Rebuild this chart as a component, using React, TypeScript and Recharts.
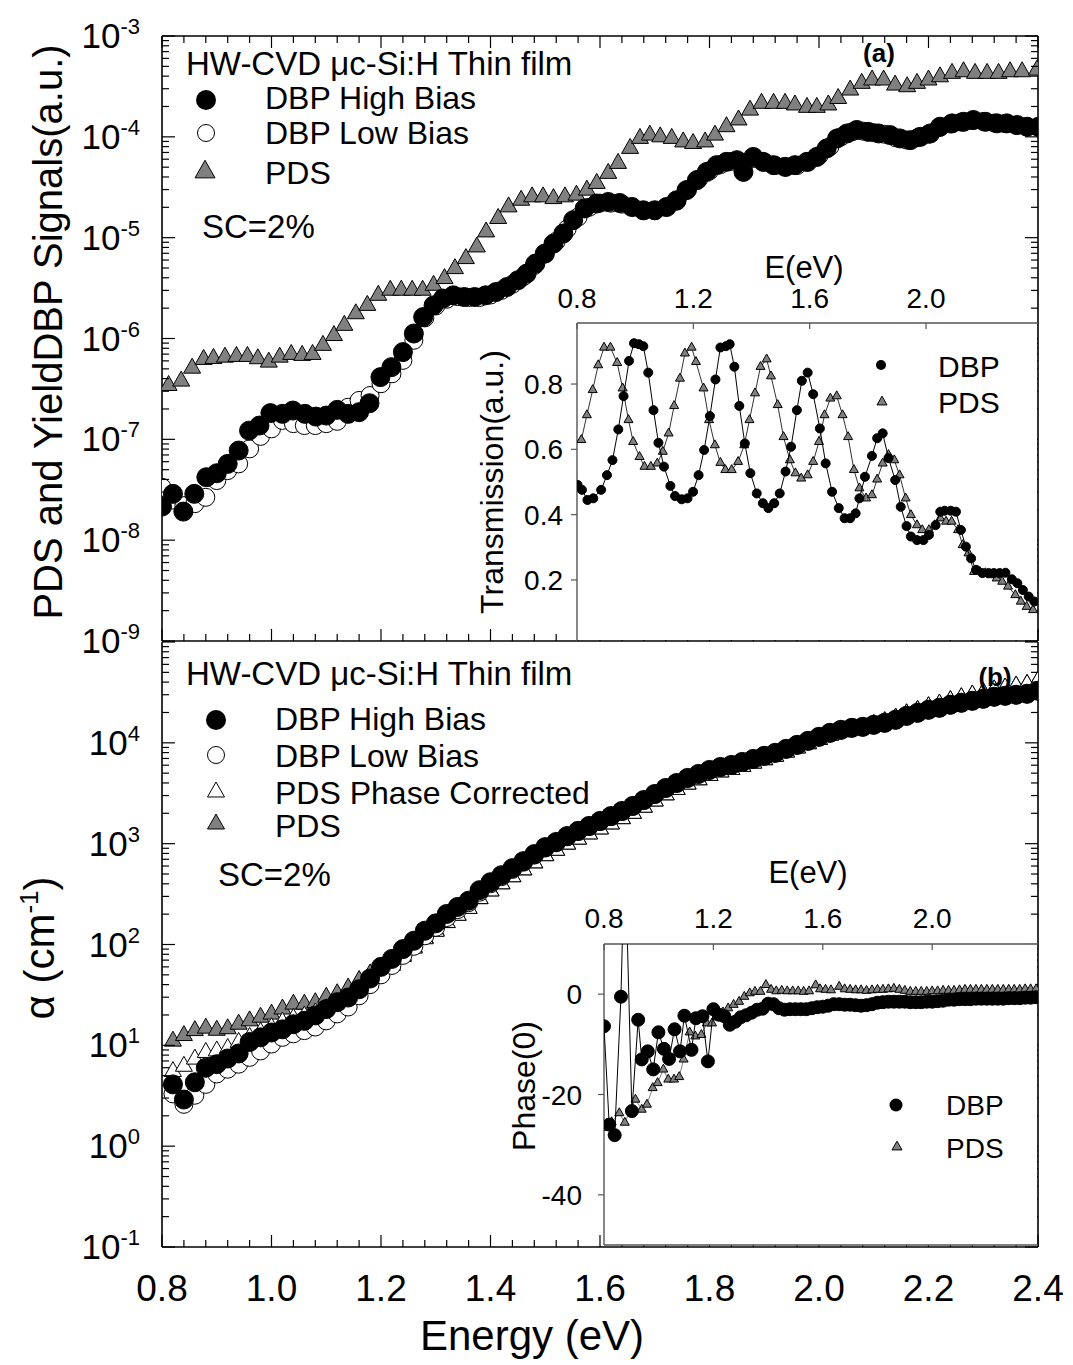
// Two-panel DBP / PDS spectra with transmission and phase insets

import React from 'react';
import { ScatterChart, Scatter, XAxis, YAxis } from 'recharts';

const FONT = '"Liberation Sans", Arial, Helvetica, sans-serif';
const GRAY = '#808080';

// ---------- panel (a): DBP and PDS signals (a.u.) ----------
const sigHighE = [
  0.800, 0.820, 0.839, 0.859, 0.881, 0.900, 0.920, 0.940, 0.959, 0.978,
  0.998, 1.020, 1.039, 1.061, 1.081, 1.100, 1.120, 1.140, 1.160, 1.179,
  1.199, 1.219, 1.240, 1.260, 1.277, 1.296, 1.313, 1.332, 1.352, 1.371,
  1.391, 1.410, 1.430, 1.450, 1.466, 1.482, 1.499, 1.515, 1.533, 1.551,
  1.572, 1.594, 1.615, 1.636, 1.658, 1.679, 1.700, 1.722, 1.740, 1.758,
  1.777, 1.795, 1.813, 1.831, 1.850, 1.862, 1.880, 1.898, 1.917, 1.938,
  1.956, 1.978, 1.996, 2.014, 2.033, 2.051, 2.069, 2.090, 2.109, 2.130,
  2.148, 2.167, 2.185, 2.203, 2.221, 2.243, 2.264, 2.282, 2.304, 2.325,
  2.343, 2.362, 2.380, 2.401,
];
const sigHighV = [
  2.15e-8, 2.88e-8, 1.92e-8, 2.88e-8, 4.21e-8, 4.61e-8, 5.71e-8, 7.74e-8, 1.22e-7, 1.37e-7,
  1.82e-7, 1.79e-7, 1.93e-7, 1.79e-7, 1.68e-7, 1.72e-7, 1.96e-7, 1.79e-7, 1.86e-7, 2.28e-7,
  4.14e-7, 5.2e-7, 7.33e-7, 1.12e-6, 1.63e-6, 2.13e-6, 2.49e-6, 2.68e-6, 2.58e-6, 2.58e-6,
  2.68e-6, 2.89e-6, 3.24e-6, 3.78e-6, 4.4e-6, 5.53e-6, 6.95e-6, 8.73e-6, 1.1e-5, 1.49e-5,
  1.95e-5, 2.18e-5, 2.26e-5, 2.21e-5, 2.02e-5, 1.87e-5, 1.87e-5, 2.02e-5, 2.35e-5, 2.96e-5,
  3.72e-5, 4.49e-5, 5.24e-5, 5.65e-5, 5.87e-5, 4.49e-5, 6.32e-5, 5.65e-5, 5.24e-5, 5.04e-5,
  5.24e-5, 5.65e-5, 6.32e-5, 7.67e-5, 9.64e-5, 1.08e-4, 1.17e-4, 1.12e-4, 1.08e-4, 1.04e-4,
  9.64e-5, 9.27e-5, 1.0e-4, 1.08e-4, 1.26e-4, 1.36e-4, 1.41e-4, 1.47e-4, 1.41e-4, 1.36e-4,
  1.36e-4, 1.31e-4, 1.26e-4, 1.26e-4,
];
const sigLowE = [
  0.80, 0.82, 0.84, 0.86, 0.88, 0.90, 0.92, 0.94, 0.96, 0.98,
  1.00, 1.02, 1.04, 1.06, 1.08, 1.10, 1.12, 1.14, 1.16, 1.18,
  1.20, 1.22, 1.24, 1.26, 1.28, 1.30, 1.32, 1.34, 1.36, 1.38,
  1.40, 1.42, 1.44, 1.46, 1.48, 1.50, 1.52, 1.54, 1.56, 1.58,
  1.60, 1.62, 1.64, 1.66, 1.68, 1.70, 1.72, 1.74, 1.76, 1.78,
  1.80, 1.82, 1.84, 1.86, 1.88, 1.90, 1.92, 1.94, 1.96, 1.98,
  2.00, 2.02, 2.04, 2.06, 2.08, 2.10, 2.12, 2.14, 2.16, 2.18,
  2.20, 2.22, 2.24, 2.26, 2.28, 2.30, 2.32, 2.34, 2.36, 2.38,
  2.40,
];
const sigLowV = [
  3.34e-8, 2.5e-8, 2.2e-8, 2.3e-8, 2.66e-8, 3.9e-8, 4.9e-8, 5.71e-8, 8.05e-8, 1.07e-7,
  1.27e-7, 1.54e-7, 1.43e-7, 1.37e-7, 1.37e-7, 1.43e-7, 1.51e-7, 2.08e-7, 2.43e-7, 2.72e-7,
  3.56e-7, 4.47e-7, 6.07e-7, 9.6e-7, 1.6e-6, 2.1e-6, 2.45e-6, 2.6e-6, 2.55e-6, 2.55e-6,
  2.7e-6, 3.0e-6, 3.45e-6, 4.1e-6, 5.3e-6, 6.9e-6, 9.2e-6, 1.22e-5, 1.6e-5, 2.0e-5,
  2.2e-5, 2.2e-5, 2.15e-5, 2.0e-5, 1.85e-5, 1.85e-5, 2.0e-5, 2.3e-5, 3.0e-5, 3.8e-5,
  4.6e-5, 5.3e-5, 5.7e-5, 5.6e-5, 6.1e-5, 5.6e-5, 5.2e-5, 5.0e-5, 5.2e-5, 5.6e-5,
  6.5e-5, 8.0e-5, 1.0e-4, 1.12e-4, 1.14e-4, 1.1e-4, 1.06e-4, 9.8e-5, 9.3e-5, 9.8e-5,
  1.06e-4, 1.24e-4, 1.34e-4, 1.4e-4, 1.45e-4, 1.42e-4, 1.37e-4, 1.35e-4, 1.3e-4, 1.26e-4,
  1.25e-4,
];
const sigPdsE = [
  0.812, 0.835, 0.855, 0.876, 0.894, 0.915, 0.936, 0.956, 0.975, 0.995,
  1.015, 1.036, 1.056, 1.075, 1.094, 1.114, 1.133, 1.154, 1.175, 1.195,
  1.217, 1.237, 1.257, 1.276, 1.296, 1.316, 1.335, 1.355, 1.375, 1.392,
  1.414, 1.433, 1.456, 1.476, 1.496, 1.515, 1.536, 1.557, 1.576, 1.594,
  1.615, 1.633, 1.655, 1.673, 1.691, 1.710, 1.731, 1.752, 1.770, 1.792,
  1.810, 1.831, 1.853, 1.874, 1.895, 1.917, 1.938, 1.956, 1.978, 1.996,
  2.017, 2.035, 2.057, 2.078, 2.097, 2.118, 2.139, 2.161, 2.179, 2.200,
  2.221, 2.243, 2.264, 2.285, 2.307, 2.328, 2.349, 2.371, 2.398,
];
const sigPdsV = [
  3.42e-7, 3.78e-7, 5.08e-7, 6.2e-7, 6.34e-7, 6.53e-7, 6.64e-7, 6.64e-7, 6.3e-7, 5.83e-7,
  6.53e-7, 6.95e-7, 6.8e-7, 6.95e-7, 8.55e-7, 1.07e-6, 1.35e-6, 1.76e-6, 2.13e-6, 2.68e-6,
  3.01e-6, 3.01e-6, 3.01e-6, 3.01e-6, 3.37e-6, 3.93e-6, 4.93e-6, 6.2e-6, 8.09e-6, 1.14e-5,
  1.55e-5, 2.02e-5, 2.35e-5, 2.54e-5, 2.54e-5, 2.44e-5, 2.54e-5, 2.64e-5, 2.96e-5, 3.45e-5,
  4.34e-5, 5.45e-5, 7.68e-5, 9.65e-5, 1.04e-4, 1.0e-4, 9.65e-5, 8.9e-5, 8.6e-5, 8.9e-5,
  1.04e-4, 1.26e-4, 1.47e-4, 1.84e-4, 2.15e-4, 2.15e-4, 2.15e-4, 2.07e-4, 1.96e-4, 1.96e-4,
  2.07e-4, 2.4e-4, 2.91e-4, 3.39e-4, 3.66e-4, 3.66e-4, 3.26e-4, 3.14e-4, 3.39e-4, 3.66e-4,
  3.94e-4, 4.26e-4, 4.42e-4, 4.26e-4, 4.26e-4, 4.26e-4, 4.42e-4, 4.42e-4, 4.59e-4,
];

// ---------- inset (a): transmission ----------
const transDbpE = [
  0.802, 0.817, 0.836, 0.856, 0.883, 0.903, 0.922, 0.942, 0.960, 0.979,
  0.996, 1.013, 1.028, 1.045, 1.063, 1.080, 1.099, 1.121, 1.137, 1.160,
  1.180, 1.199, 1.218, 1.237, 1.257, 1.276, 1.293, 1.312, 1.325, 1.341,
  1.358, 1.377, 1.396, 1.418, 1.439, 1.458, 1.478, 1.497, 1.517, 1.536,
  1.556, 1.573, 1.593, 1.612, 1.635, 1.655, 1.677, 1.700, 1.720, 1.739,
  1.758, 1.771, 1.790, 1.814, 1.832, 1.851, 1.871, 1.894, 1.913, 1.933,
  1.948, 1.969, 1.991, 2.010, 2.033, 2.049, 2.064, 2.085, 2.103, 2.120,
  2.137, 2.155, 2.172, 2.194, 2.215, 2.233, 2.253, 2.273, 2.295, 2.314,
  2.333, 2.353, 2.372,
];
const transDbpV = [
  0.491, 0.476, 0.445, 0.450, 0.476, 0.521, 0.567, 0.661, 0.763, 0.871,
  0.925, 0.922, 0.916, 0.835, 0.720, 0.620, 0.547, 0.488, 0.457, 0.447,
  0.450, 0.470, 0.521, 0.598, 0.702, 0.814, 0.912, 0.916, 0.922, 0.853,
  0.733, 0.618, 0.527, 0.465, 0.435, 0.420, 0.435, 0.465, 0.532, 0.608,
  0.720, 0.810, 0.835, 0.769, 0.664, 0.557, 0.470, 0.420, 0.389, 0.389,
  0.404, 0.450, 0.516, 0.580, 0.634, 0.649, 0.573, 0.506, 0.424, 0.365,
  0.333, 0.322, 0.322, 0.338, 0.368, 0.409, 0.412, 0.412, 0.409, 0.353,
  0.302, 0.266, 0.231, 0.221, 0.221, 0.221, 0.221, 0.222, 0.202, 0.190,
  0.169, 0.149, 0.134,
];
const transPdsE = [
  0.815, 0.834, 0.854, 0.873, 0.893, 0.915, 0.938, 0.957, 0.977, 0.993,
  1.015, 1.032, 1.054, 1.076, 1.095, 1.115, 1.134, 1.154, 1.171, 1.194,
  1.209, 1.235, 1.254, 1.274, 1.293, 1.310, 1.332, 1.354, 1.375, 1.393,
  1.412, 1.431, 1.452, 1.467, 1.490, 1.510, 1.532, 1.551, 1.571, 1.593,
  1.612, 1.632, 1.651, 1.671, 1.693, 1.713, 1.732, 1.752, 1.771, 1.794,
  1.814, 1.832, 1.851, 1.871, 1.891, 1.909, 1.930, 1.948, 1.969, 1.987,
  2.010, 2.030, 2.049, 2.069, 2.088, 2.110, 2.126, 2.146, 2.165, 2.185,
  2.204, 2.223, 2.243, 2.262, 2.282, 2.307, 2.326, 2.346, 2.368,
];
const transPdsV = [
  0.629, 0.705, 0.782, 0.858, 0.912, 0.912, 0.865, 0.787, 0.690, 0.623,
  0.577, 0.547, 0.547, 0.557, 0.593, 0.649, 0.733, 0.817, 0.894, 0.912,
  0.868, 0.787, 0.690, 0.613, 0.559, 0.537, 0.537, 0.562, 0.613, 0.690,
  0.772, 0.853, 0.876, 0.824, 0.736, 0.638, 0.567, 0.527, 0.511, 0.521,
  0.562, 0.623, 0.705, 0.756, 0.763, 0.705, 0.638, 0.537, 0.481, 0.450,
  0.460, 0.508, 0.557, 0.583, 0.567, 0.521, 0.450, 0.399, 0.368, 0.353,
  0.353, 0.368, 0.389, 0.379, 0.379, 0.353, 0.307, 0.282, 0.225, 0.225,
  0.221, 0.215, 0.205, 0.195, 0.180, 0.154, 0.134, 0.118, 0.108,
];

// ---------- panel (b): absorption coefficient (cm-1) ----------
const absE = [
  0.82, 0.84, 0.86, 0.88, 0.90, 0.92, 0.94, 0.96, 0.98, 1.00,
  1.02, 1.04, 1.06, 1.08, 1.10, 1.12, 1.14, 1.16, 1.18, 1.20,
  1.22, 1.24, 1.26, 1.28, 1.30, 1.32, 1.34, 1.36, 1.38, 1.40,
  1.42, 1.44, 1.46, 1.48, 1.50, 1.52, 1.54, 1.56, 1.58, 1.60,
  1.62, 1.64, 1.66, 1.68, 1.70, 1.72, 1.74, 1.76, 1.78, 1.80,
  1.82, 1.84, 1.86, 1.88, 1.90, 1.92, 1.94, 1.96, 1.98, 2.00,
  2.02, 2.04, 2.06, 2.08, 2.10, 2.12, 2.14, 2.16, 2.18, 2.20,
  2.22, 2.24, 2.26, 2.28, 2.30, 2.32, 2.34, 2.36, 2.38, 2.40,
];
const absHigh = [
  4.1, 2.9, 4.3, 6.0, 6.5, 7.4, 8.3, 10.8, 12.0, 13.4,
  14.4, 16.2, 17.5, 19.8, 22.9, 26.8, 29.8, 36, 46, 60,
  72, 90, 109, 137, 162, 201, 236, 272, 346, 415,
  487, 572, 671, 788, 925, 1040, 1190, 1340, 1500, 1680,
  1880, 2110, 2370, 2710, 3110, 3570, 4000, 4490, 4920, 5390,
  5770, 6040, 6470, 6930, 7430, 7960, 8720, 9550, 10470, 11480,
  12570, 13460, 14100, 14420, 15100, 15810, 16940, 18540, 19870, 21290,
  22290, 23880, 25000, 26140, 27370, 28660, 29310, 29990, 30690, 32890,
];
const absLow = [
  3.3, 2.6, 3.2, 4.1, 5.2, 5.8, 6.5, 7.6, 8.8, 10.3,
  12.0, 13.0, 14.0, 15.2, 17.5, 20.5, 24, 31, 40, 50,
  62, 78, 96, 122, 148, 185, 222, 260, 330, 400,
  470, 555, 655, 770, 905, 1020, 1170, 1320, 1480, 1660,
  1860, 2090, 2350, 2690, 3080, 3540, 3970, 4450, 4880, 5350,
  5730, 6000, 6420, 6880, 7380, 7900, 8650, 9480, 10400, 11400,
  12480, 13360, 14000, 14320, 15000, 15700, 16820, 18400, 19730, 21140,
  22130, 23710, 24820, 25950, 27180, 28460, 29100, 29780, 30480, 32660,
];
const absPdsCorr = [
  5.5, 6.2, 7.3, 8.5, 8.8, 9.3, 10.7, 12.0, 13.5, 15.0,
  17.0, 18.5, 19.5, 21, 23, 26, 29, 34, 42, 52,
  62, 76, 92, 114, 135, 165, 195, 228, 285, 340,
  400, 470, 550, 645, 760, 860, 990, 1110, 1250, 1400,
  1570, 1770, 2000, 2300, 2650, 3050, 3450, 3900, 4300, 4750,
  5150, 5450, 5850, 6300, 6800, 7350, 8100, 8900, 9800, 10800,
  11900, 12900, 13700, 14300, 15200, 16200, 17600, 19400, 21000, 22800,
  24200, 26200, 28000, 29800, 31500, 33500, 35000, 36500, 38000, 41000,
];
const absPds = [
  11.0, 12.5, 14.0, 14.8, 14.1, 14.6, 16.2, 17.5, 19.0, 20.4,
  22.9, 25.6, 25.6, 26.5, 30, 32.5, 37, 44, 51, 58,
  64, 78, 94, 116, 138, 165, 195, 228, 285, 340,
  400, 470, 550, 645, 760, 860, 990, 1110, 1250, 1400,
  1570, 1770, 2000, 2300, 2650, 3050, 3450, 3900, 4300, 4750,
  5150, 5450, 5850, 6300, 6800, 7350, 8100, 8900, 9800, 10800,
  11900, 12900, 13700, 14300, 15200, 16200, 17600, 19400, 21000, 22800,
  24200, 26200, 28000, 29800, 31500, 33500, 35000, 36500, 38000, 41000,
];

// ---------- inset (b): phase (deg) ----------
const phaseDbpE = [
  0.800, 0.819, 0.839, 0.862, 0.876, 0.902, 0.925, 0.938, 0.960, 0.980,
  0.999, 1.019, 1.038, 1.058, 1.078, 1.094, 1.120, 1.136, 1.160, 1.180,
  1.200, 1.220, 1.240, 1.260, 1.280, 1.300, 1.320, 1.340, 1.360, 1.380,
  1.400, 1.420, 1.440, 1.460, 1.480, 1.500, 1.520, 1.540, 1.560, 1.580,
  1.600, 1.620, 1.640, 1.660, 1.680, 1.700, 1.720, 1.740, 1.760, 1.780,
  1.800, 1.820, 1.840, 1.860, 1.880, 1.900, 1.920, 1.940, 1.960, 1.980,
  2.000, 2.020, 2.040, 2.060, 2.080, 2.100, 2.120, 2.140, 2.160, 2.180,
  2.200, 2.220, 2.240, 2.260, 2.280, 2.300, 2.320, 2.340, 2.360, 2.380,
];
const phaseDbpV = [
  -6.4, -26, -28.1, -0.5, 30, -23.3, -5.1, -13, -11.4, -15,
  -7.6, -10.9, -12.9, -7.0, -11.4, -4.3, -11.1, -4.8, -4.4, -13.4,
  -3.0, -4.1, -4.4, -6.1, -5.5, -4.6, -4.2, -3.7, -3.1, -2.9,
  -1.9, -2.0, -2.8, -3.1, -3.0, -3.0, -3.0, -3.0, -2.8, -2.6,
  -2.5, -2.3, -2.0, -2.0, -2.1, -2.1, -2.2, -2.3, -2.2, -2.0,
  -1.7, -1.6, -1.5, -1.5, -1.5, -1.5, -1.6, -1.6, -1.6, -1.5,
  -1.5, -1.4, -1.3, -1.1, -1.1, -1.0, -1.0, -1.0, -0.9, -0.9,
  -0.9, -0.9, -0.9, -0.9, -0.8, -0.8, -0.8, -0.7, -0.7, -0.6,
];
const phasePdsE = [
  0.800, 0.828, 0.856, 0.876, 0.915, 0.938, 0.957, 0.978, 0.996, 1.017,
  1.035, 1.056, 1.075, 1.091, 1.113, 1.134, 1.156, 1.176, 1.195, 1.215,
  1.235, 1.254, 1.274, 1.294, 1.313, 1.333, 1.352, 1.372, 1.392, 1.411,
  1.430, 1.450, 1.470, 1.490, 1.510, 1.530, 1.550, 1.574, 1.590, 1.610,
  1.630, 1.660, 1.680, 1.700, 1.720, 1.740, 1.760, 1.780, 1.800, 1.820,
  1.840, 1.860, 1.880, 1.900, 1.920, 1.940, 1.960, 1.980, 2.000, 2.020,
  2.040, 2.060, 2.080, 2.100, 2.120, 2.140, 2.160, 2.180, 2.200, 2.220,
  2.240, 2.260, 2.280, 2.300, 2.320, 2.340, 2.360, 2.380,
];
const phasePdsV = [
  -26.6, -25.5, -23.7, -25.6, -21, -23, -22, -18.7, -17.7, -15,
  -17, -17, -16.5, -13, -7.6, -8.4, -8.1, -5.8, -5.8, -4.5,
  -3.6, -2.8, -2.1, -1.5, -0.5, 0.2, 0.5, 0.5, 1.85, 0.9,
  0.6, 0.7, 0.6, 0.6, 0.6, 0.5, 0.6, 1.8, 1.0, 0.9,
  0.8, 1.5, 1.0, 0.9, 0.8, 0.8, 0.7, 0.8, 0.9, 0.9,
  1.0, 1.1, 0.9, 0.7, 0.5, 0.5, 0.5, 0.5, 0.6, 0.6,
  0.7, 0.7, 0.7, 0.8, 0.9, 0.9, 0.9, 0.9, 0.9, 0.9,
  0.9, 0.9, 0.9, 0.9, 0.9, 1.0, 1.0, 1.0,
];

// ---------- tick labels ----------
const mainXLabels = [0.8, 1.0, 1.2, 1.4, 1.6, 1.8, 2.0, 2.2, 2.4];
const sigDecades = [1e-9, 1e-8, 1e-7, 1e-6, 1e-5, 1e-4, 1e-3];
const absDecades = [1e-1, 1e0, 1e1, 1e2, 1e3, 1e4, 1e5];
const absLabelled = [1e-1, 1e0, 1e1, 1e2, 1e3, 1e4];
const insetXLabels = [0.8, 1.2, 1.6, 2.0];
const transTicks = [0.2, 0.4, 0.6, 0.8];
const phaseTicks = [0, -20, -40];

const zip = (xs: number[], ys: number[]) =>
  xs.slice(0, Math.min(xs.length, ys.length)).map((x, i) => ({ x, y: ys[i] }));

const withMinor = (majors: number[], parts: number) => {
  const out: number[] = [];
  majors.forEach((m, i) => {
    out.push(m);
    if (i < majors.length - 1) {
      const step = (majors[i + 1] - m) / parts;
      for (let k = 1; k < parts; k++) out.push(+(m + k * step).toFixed(4));
    }
  });
  return out;
};
const logMinor = (decades: number[]) => {
  const out: number[] = [];
  decades.forEach((d, i) => {
    out.push(d);
    if (i < decades.length - 1) for (let k = 2; k <= 9; k++) out.push(d * k);
  });
  return out;
};
// relative comparison, so 2e-9 is not mistaken for 1e-9
const near = (list: number[], v: number) =>
  list.some((m) => (m === 0 ? Math.abs(v) < 1e-12 : Math.abs(m - v) <= Math.abs(m) * 1e-6));

const mainXTicks = withMinor(mainXLabels, 5);
const sigTicks = logMinor(sigDecades);
const absTicks = logMinor(absDecades);
const allDecades = sigDecades.concat(absDecades);

const AXIS = { stroke: '#000', strokeWidth: 1.6 };
const INSET_AXIS = { stroke: '#555', strokeWidth: 1.4 };

// ---------- tick renderers ----------
const leftLogTick = (labelled: number[]) => (p: any) => {
  const v = p.payload.value;
  const major = near(allDecades, v);
  const exp = Math.round(Math.log10(v));
  return (
    <g>
      <line x1={p.x} y1={p.y} x2={p.x + (major ? 13 : 7)} y2={p.y} stroke="#000" strokeWidth={1.2} />
      {major && near(labelled, v) && (
        <text x={p.x - 22} y={p.y + 12} textAnchor="end" fontSize={35} fontFamily={FONT} fill="#000">
          10<tspan dy={-14} fontSize={22}>{exp}</tspan>
        </text>
      )}
    </g>
  );
};
const rightLogTick = (p: any) => {
  const major = near(allDecades, p.payload.value);
  return <line x1={p.x} y1={p.y} x2={p.x - (major ? 13 : 7)} y2={p.y} stroke="#000" strokeWidth={1.2} />;
};
const bottomTick = (labels: boolean) => (p: any) => {
  const v = p.payload.value;
  const major = near(mainXLabels, v);
  return (
    <g>
      <line x1={p.x} y1={p.y} x2={p.x} y2={p.y - (major ? 12 : 7)} stroke="#000" strokeWidth={1.2} />
      {major && labels && (
        <text x={p.x} y={p.y + 54} textAnchor="middle" fontSize={37} fontFamily={FONT} fill="#000">
          {v.toFixed(1)}
        </text>
      )}
    </g>
  );
};
const topTick = (p: any) => {
  const major = near(mainXLabels, p.payload.value);
  return <line x1={p.x} y1={p.y} x2={p.x} y2={p.y + (major ? 12 : 7)} stroke="#000" strokeWidth={1.2} />;
};
const insetTopTick = (lift: number) => (p: any) => (
  <g>
    <line x1={p.x} y1={p.y} x2={p.x} y2={p.y + 6} stroke="#555" strokeWidth={1.2} />
    <text x={p.x} y={p.y - lift} textAnchor="middle" fontSize={28} fontFamily={FONT} fill="#000">
      {p.payload.value.toFixed(1)}
    </text>
  </g>
);
const insetLeftTick = (gap: number, digits: number) => (p: any) => (
  <g>
    <line x1={p.x} y1={p.y} x2={p.x - 6} y2={p.y} stroke="#555" strokeWidth={1.2} />
    <text x={p.x - gap} y={p.y + 10} textAnchor="end" fontSize={28} fontFamily={FONT} fill="#000">
      {p.payload.value.toFixed(digits)}
    </text>
  </g>
);

// ---------- marker shapes ----------
const dot = (r: number, fill: string) => (p: any) => (
  <circle cx={p.cx} cy={p.cy} r={r} fill={fill} stroke="#000" strokeWidth={1} />
);
const triPoints = (cx: number, cy: number, w: number) => {
  const h = w * 0.88;
  return `${cx},${cy - (2 * h) / 3} ${cx - w / 2},${cy + h / 3} ${cx + w / 2},${cy + h / 3}`;
};
const tri = (w: number, fill: string) => (p: any) => (
  <polygon points={triPoints(p.cx, p.cy, w)} fill={fill} stroke="#000" strokeWidth={1} />
);
const legendTri = (cx: number, cy: number, w: number, fill: string) => (
  <polygon points={triPoints(cx, cy, w)} fill={fill} stroke="#000" strokeWidth={1} />
);

const layer: React.CSSProperties = { position: 'absolute', left: 0, top: 0 };

export default function App() {
  return (
    <div
      style={{
        position: 'absolute',
        left: 0,
        top: 0,
        width: 1073,
        height: 1365,
        background: '#fff',
        overflow: 'hidden',
        fontFamily: FONT,
      }}
    >
      {/* panel (a) */}
      <div style={layer}>
        <ScatterChart width={1073} height={700} margin={{ top: 35, right: 34, bottom: 0, left: 0 }}>
          <XAxis xAxisId="b" dataKey="x" type="number" domain={[0.8, 2.4]} allowDataOverflow
            ticks={mainXTicks} interval={0} height={59} tickSize={0} tickMargin={0}
            tickLine={false} axisLine={AXIS} tick={bottomTick(false)} />
          <XAxis xAxisId="t" orientation="top" dataKey="x" type="number" domain={[0.8, 2.4]} allowDataOverflow
            ticks={mainXTicks} interval={0} height={1} tickSize={0} tickMargin={0}
            tickLine={false} axisLine={AXIS} tick={topTick} />
          <YAxis yAxisId="l" dataKey="y" type="number" scale="log" domain={[1e-9, 1e-3]} allowDataOverflow
            ticks={sigTicks} interval={0} width={162} tickSize={0} tickMargin={0}
            tickLine={false} axisLine={AXIS} tick={leftLogTick(sigDecades)} />
          <YAxis yAxisId="r" orientation="right" dataKey="y" type="number" scale="log" domain={[1e-9, 1e-3]}
            allowDataOverflow ticks={sigTicks} interval={0} width={1} tickSize={0} tickMargin={0}
            tickLine={false} axisLine={AXIS} tick={rightLogTick} />
          <Scatter xAxisId="b" yAxisId="l" data={zip(sigPdsE, sigPdsV)} shape={tri(17, GRAY)} isAnimationActive={false} />
          <Scatter xAxisId="b" yAxisId="l" data={zip(sigLowE, sigLowV)} shape={dot(9, '#fff')} isAnimationActive={false} />
          <Scatter xAxisId="b" yAxisId="l" data={zip(sigHighE, sigHighV)} shape={dot(9.5, '#000')} isAnimationActive={false} />
        </ScatterChart>
      </div>

      {/* panel (b) */}
      <div style={layer}>
        <ScatterChart width={1073} height={1365} margin={{ top: 642, right: 34, bottom: 0, left: 0 }}>
          <XAxis xAxisId="b" dataKey="x" type="number" domain={[0.8, 2.4]} allowDataOverflow
            ticks={mainXTicks} interval={0} height={118} tickSize={0} tickMargin={0}
            tickLine={false} axisLine={AXIS} tick={bottomTick(true)} />
          <YAxis yAxisId="l" dataKey="y" type="number" scale="log" domain={[1e-1, 1e5]} allowDataOverflow
            ticks={absTicks} interval={0} width={162} tickSize={0} tickMargin={0}
            tickLine={false} axisLine={AXIS} tick={leftLogTick(absLabelled)} />
          <YAxis yAxisId="r" orientation="right" dataKey="y" type="number" scale="log" domain={[1e-1, 1e5]}
            allowDataOverflow ticks={absTicks} interval={0} width={1} tickSize={0} tickMargin={0}
            tickLine={false} axisLine={AXIS} tick={rightLogTick} />
          <Scatter xAxisId="b" yAxisId="l" data={zip(absE, absPds)} shape={tri(17, GRAY)} isAnimationActive={false} />
          <Scatter xAxisId="b" yAxisId="l" data={zip(absE, absPdsCorr)} shape={tri(17, '#fff')} isAnimationActive={false} />
          <Scatter xAxisId="b" yAxisId="l" data={zip(absE, absLow)} shape={dot(9, '#fff')} isAnimationActive={false} />
          <Scatter xAxisId="b" yAxisId="l" data={zip(absE, absHigh)} shape={dot(9.5, '#000')} isAnimationActive={false} />
        </ScatterChart>
      </div>

      {/* inset backgrounds */}
      <div style={{ position: 'absolute', left: 577, top: 323, width: 460, height: 317, background: '#fff' }} />
      <div style={{ position: 'absolute', left: 605, top: 944, width: 432, height: 301, background: '#fff' }} />

      {/* inset (a): transmission */}
      <div style={layer}>
        <ScatterChart width={1073} height={700} margin={{ top: 322, right: 35, bottom: 59, left: 0 }}>
          <XAxis xAxisId="t" orientation="top" dataKey="x" type="number" domain={[0.8, 2.385]} allowDataOverflow
            ticks={insetXLabels} interval={0} height={1} tickSize={0} tickMargin={0}
            tickLine={false} axisLine={INSET_AXIS} tick={insetTopTick(15)} />
          <YAxis yAxisId="l" dataKey="y" type="number" domain={[0.013, 0.987]} allowDataOverflow
            ticks={transTicks} interval={0} width={577} tickSize={0} tickMargin={0}
            tickLine={false} axisLine={INSET_AXIS} tick={insetLeftTick(14, 1)} />
          <Scatter xAxisId="t" yAxisId="l" data={zip(transPdsE, transPdsV)} shape={tri(9, GRAY)}
            line={{ stroke: '#333', strokeWidth: 1 }} isAnimationActive={false} />
          <Scatter xAxisId="t" yAxisId="l" data={zip(transDbpE, transDbpV)} shape={dot(4.5, '#000')}
            line={{ stroke: '#000', strokeWidth: 1 }} isAnimationActive={false} />
        </ScatterChart>
      </div>

      {/* inset (b): phase */}
      <div style={layer}>
        <ScatterChart width={1073} height={1365} margin={{ top: 943, right: 35, bottom: 0, left: 0 }}>
          <XAxis xAxisId="t" orientation="top" dataKey="x" type="number" domain={[0.8, 2.387]} allowDataOverflow
            ticks={insetXLabels} interval={0} height={1} tickSize={0} tickMargin={0}
            tickLine={false} axisLine={INSET_AXIS} tick={insetTopTick(16)} />
          <XAxis xAxisId="b" dataKey="x" type="number" domain={[0.8, 2.387]} allowDataOverflow
            height={120} tick={false} tickLine={false} axisLine={INSET_AXIS} />
          <YAxis yAxisId="l" dataKey="y" type="number" domain={[-50, 10]} allowDataOverflow
            ticks={phaseTicks} interval={0} width={604} tickSize={0} tickMargin={0}
            tickLine={false} axisLine={INSET_AXIS} tick={insetLeftTick(22, 0)} />
          <Scatter xAxisId="t" yAxisId="l" data={zip(phasePdsE, phasePdsV)} shape={tri(9, GRAY)}
            line={{ stroke: GRAY, strokeWidth: 1 }} isAnimationActive={false} />
          <Scatter xAxisId="t" yAxisId="l" data={zip(phaseDbpE, phaseDbpV)} shape={dot(6.5, '#000')}
            line={{ stroke: '#000', strokeWidth: 1 }} isAnimationActive={false} />
        </ScatterChart>
      </div>

      {/* titles, legends and notes */}
      <svg width={1073} height={1365} style={{ ...layer, pointerEvents: 'none' }} fontFamily={FONT} fill="#000">
        <text transform="translate(62,332) rotate(-90)" textAnchor="middle" fontSize={40}>
          PDS and YieldDBP Signals(a.u.)
        </text>
        <text transform="translate(54,948) rotate(-90)" textAnchor="middle" fontSize={42}>
          α (cm<tspan dy={-16} fontSize={26}>-1</tspan><tspan dy={16}>)</tspan>
        </text>
        <text x={532} y={1350} textAnchor="middle" fontSize={42}>Energy (eV)</text>

        {/* panel (a) notes */}
        <text x={186} y={75} fontSize={33}>HW-CVD μc-Si:H Thin film</text>
        <circle cx={206} cy={100} r={10} fill="#000" />
        <text x={265} y={109} fontSize={32}>DBP High Bias</text>
        <circle cx={206} cy={133} r={8.5} fill="#fff" stroke="#000" strokeWidth={1} />
        <text x={265} y={144} fontSize={32}>DBP Low Bias</text>
        {legendTri(205, 172, 20, GRAY)}
        <text x={265} y={184} fontSize={32}>PDS</text>
        <text x={202} y={238} fontSize={33}>SC=2%</text>
        <text x={879} y={62} textAnchor="middle" fontSize={26} fontWeight="bold">(a)</text>

        {/* inset (a) titles and legend */}
        <text x={804} y={278} textAnchor="middle" fontSize={31}>E(eV)</text>
        <text transform="translate(503,482) rotate(-90)" textAnchor="middle" fontSize={32}>Transmission(a.u.)</text>
        <circle cx={881} cy={365} r={5} fill="#000" />
        <text x={938} y={377} fontSize={30}>DBP</text>
        {legendTri(882, 402, 10, GRAY)}
        <text x={938} y={413} fontSize={30}>PDS</text>

        {/* panel (b) notes */}
        <text x={186} y={685} fontSize={33}>HW-CVD μc-Si:H Thin film</text>
        <circle cx={216} cy={720} r={10} fill="#000" />
        <text x={275} y={730} fontSize={32}>DBP High Bias</text>
        <circle cx={216} cy={755} r={8.5} fill="#fff" stroke="#000" strokeWidth={1} />
        <text x={275} y={767} fontSize={32}>DBP Low Bias</text>
        {legendTri(216, 792, 17, '#fff')}
        <text x={275} y={804} fontSize={32}>PDS Phase Corrected</text>
        {legendTri(216, 824, 17, GRAY)}
        <text x={275} y={837} fontSize={32}>PDS</text>
        <text x={218} y={886} fontSize={33}>SC=2%</text>
        <text x={995} y={686} textAnchor="middle" fontSize={26} fontWeight="bold">(b)</text>

        {/* inset (b) titles and legend */}
        <text x={808} y={883} textAnchor="middle" fontSize={31}>E(eV)</text>
        <text transform="translate(535,1086) rotate(-90)" textAnchor="middle" fontSize={32}>Phase(0)</text>
        <circle cx={896} cy={1105} r={6.5} fill="#000" />
        <text x={946} y={1115} fontSize={28}>DBP</text>
        {legendTri(897, 1147, 10, GRAY)}
        <text x={946} y={1158} fontSize={28}>PDS</text>
      </svg>
    </div>
  );
}
